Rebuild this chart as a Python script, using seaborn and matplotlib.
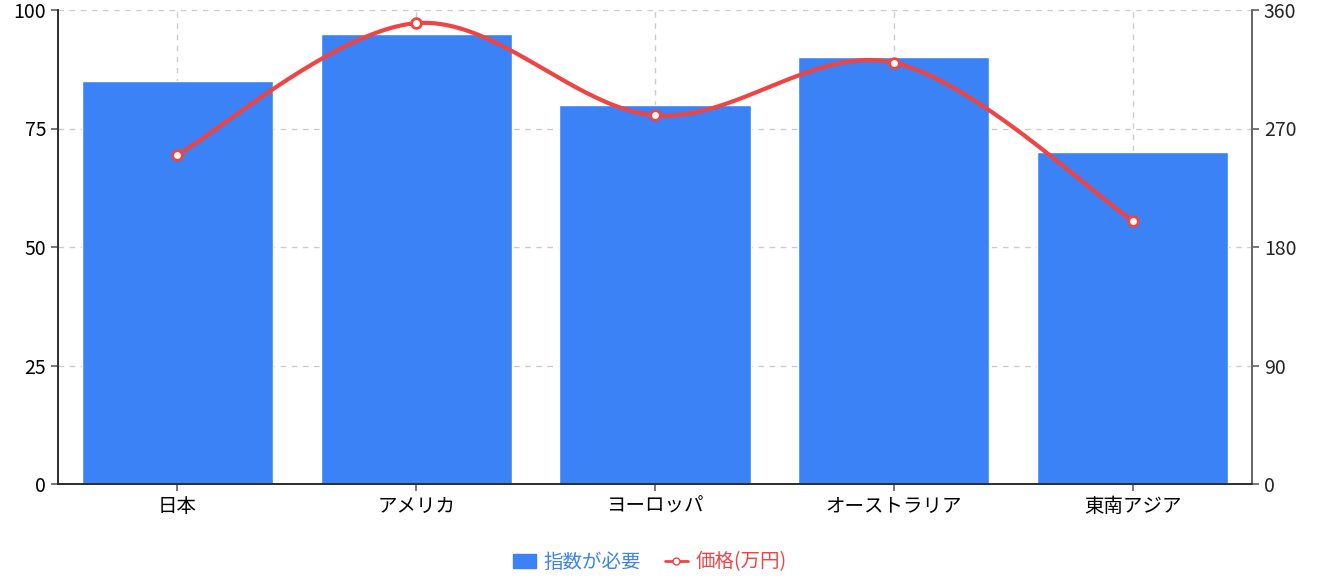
import numpy as np
import matplotlib
matplotlib.use("Agg")
import matplotlib.pyplot as plt
import seaborn as sns
import pandas as pd
from matplotlib.lines import Line2D
from matplotlib.patches import Patch

categories = ["日本", "アメリカ", "ヨーロッパ", "オーストラリア", "東南アジア"]
index_values = [85, 95, 80, 90, 70]
price_values = [250, 350, 280, 320, 200]

sns.set_theme(style="white")
plt.rcParams['font.family'] = ['Noto Sans CJK JP', 'DejaVu Sans']

fig = plt.figure(figsize=(13.26, 5.84), dpi=100)
ax = fig.add_axes([58/1326, 1-484/584, (1252-58)/1326, 474/584])
df = pd.DataFrame({"cat": categories, "v": index_values})
sns.barplot(data=df, x="cat", y="v", color="#3b82f6", saturation=1, width=0.8, ax=ax)
ax.set_ylim(0, 100)
ax.set_yticks([0, 25, 50, 75, 100])
ax.set_xlabel(""); ax.set_ylabel("")
ax.grid(True, color="#cccccc", linestyle=(0, (4, 4)), linewidth=1)
ax.set_axisbelow(True)
ax.spines["top"].set_visible(False)
for s in ["left", "bottom", "right"]:
    ax.spines[s].set_color("#666666")
ax.tick_params(axis="both", labelsize=14, colors="#000000", length=5, color="#666666", left=True, bottom=True)

ax2 = ax.twinx()
ax2.set_ylim(0, 360)
ax2.set_yticks([0, 90, 180, 270, 360])
ax2.tick_params(axis="y", labelsize=14, length=5, color="#666666", right=True)
ax2.spines["top"].set_visible(False)
ax2.spines["right"].set_color("#666666")

# smooth curve (Catmull-Rom) through points for drawing
x = np.arange(len(price_values), dtype=float)
y = np.array(price_values, dtype=float)
px = np.concatenate([[x[0]], x, [x[-1]]]); py = np.concatenate([[y[0]], y, [y[-1]]])
cx, cy = [], []
for i in range(1, len(px) - 2):
    t = np.linspace(0, 1, 50)
    for P, out in ((px, cx), (py, cy)):
        p0, p1, p2, p3 = P[i-1], P[i], P[i+1], P[i+2]
        out.extend(0.5*((2*p1) + (-p0+p2)*t + (2*p0-5*p1+4*p2-p3)*t**2 + (-p0+3*p1-3*p2+p3)*t**3))
ax2.plot(cx, cy, color="#ef4444", linewidth=3)
ax2.plot(x, y, "o", color="#ef4444", markerfacecolor="white", markeredgewidth=2, markersize=7)
ax.set_xlim(-0.5, len(categories) - 0.5)

handles = [Patch(color="#3b82f6"),
           Line2D([], [], color="#ef4444", lw=2, marker="o", markerfacecolor="white", markersize=5)]
leg = fig.legend(handles, ["指数が必要", "価格(万円)"], loc="center", bbox_to_anchor=(0.49, 1-562/584),
                 ncol=2, frameon=False, fontsize=14, handlelength=1.2, columnspacing=1.2, handletextpad=0.4)
for t, c in zip(leg.get_texts(), ["#3b82f6", "#ef4444"]):
    t.set_color(c)

fig.savefig("out.png", dpi=100)
